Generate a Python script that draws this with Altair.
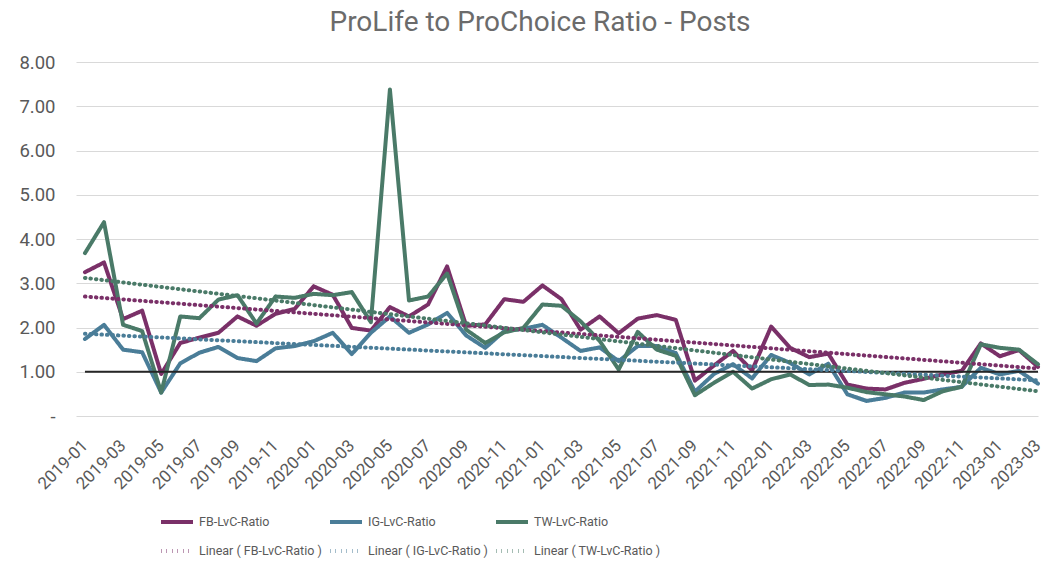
import json
import altair as alt
import pandas as pd

months = [
    "2019-01", "2019-02", "2019-03", "2019-04", "2019-05", "2019-06", "2019-07", "2019-08", "2019-09", "2019-10", "2019-11", "2019-12",
    "2020-01", "2020-02", "2020-03", "2020-04", "2020-05", "2020-06", "2020-07", "2020-08", "2020-09", "2020-10", "2020-11", "2020-12",
    "2021-01", "2021-02", "2021-03", "2021-04", "2021-05", "2021-06", "2021-07", "2021-08", "2021-09", "2021-10", "2021-11", "2021-12",
    "2022-01", "2022-02", "2022-03", "2022-04", "2022-05", "2022-06", "2022-07", "2022-08", "2022-09", "2022-10", "2022-11", "2022-12",
    "2023-01", "2023-02", "2023-03",
]

fb_ratio = [3.25, 3.47, 2.19, 2.38, 0.95, 1.65, 1.77, 1.88, 2.25, 2.04, 2.31, 2.42,
            2.93, 2.74, 1.99, 1.93, 2.46, 2.25, 2.52, 3.38, 2.04, 2.07, 2.64, 2.58,
            2.95, 2.64, 1.95, 2.25, 1.87, 2.20, 2.28, 2.17, 0.80, 1.14, 1.47, 1.03,
            2.02, 1.54, 1.33, 1.41, 0.71, 0.62, 0.60, 0.75, 0.84, 0.94, 1.02, 1.64,
            1.35, 1.49, 1.11]
ig_ratio = [1.74, 2.06, 1.50, 1.44, 0.53, 1.19, 1.43, 1.56, 1.31, 1.24, 1.53, 1.58,
            1.69, 1.88, 1.40, 1.88, 2.25, 1.88, 2.07, 2.33, 1.82, 1.54, 1.92, 1.97,
            2.06, 1.77, 1.47, 1.55, 1.24, 1.58, 1.58, 1.42, 0.55, 0.95, 1.17, 0.85,
            1.38, 1.20, 0.94, 1.18, 0.49, 0.34, 0.41, 0.53, 0.53, 0.60, 0.66, 1.09,
            0.94, 1.02, 0.73]
tw_ratio = [3.68, 4.38, 2.06, 1.92, 0.53, 2.25, 2.21, 2.63, 2.73, 2.09, 2.70, 2.67,
            2.76, 2.73, 2.80, 2.12, 7.38, 2.61, 2.70, 3.22, 1.95, 1.65, 1.89, 1.99,
            2.52, 2.49, 2.14, 1.70, 1.05, 1.90, 1.50, 1.36, 0.47, 0.75, 1.00, 0.62,
            0.83, 0.94, 0.70, 0.71, 0.64, 0.54, 0.49, 0.44, 0.36, 0.56, 0.66, 1.62,
            1.54, 1.50, 1.17]

series_names = ["FB-LvC-Ratio", "IG-LvC-Ratio", "TW-LvC-Ratio"]
trend_names = ["Linear ( FB-LvC-Ratio )", "Linear ( IG-LvC-Ratio )", "Linear ( TW-LvC-Ratio )"]
series_colors = ["#7a3068", "#4a7d98", "#4a7a68"]
y_ticks = [0, 1, 2, 3, 4, 5, 6, 7, 8]
baseline_value = 1.0

rows = []
for name, vals in zip(series_names, [fb_ratio, ig_ratio, tw_ratio]):
    for i, (m, v) in enumerate(zip(months, vals)):
        rows.append({"i": i, "month": m, "series": name, "value": v})
df = pd.DataFrame(rows)

all_names = series_names + trend_names
legend = alt.Legend(
    title=None, orient="none", legendX=83, legendY=442, columns=3, direction="horizontal",
    symbolType="stroke", symbolSize=1024, labelFont="Roboto",
    labelFontSize=12.5, labelColor="#595959", labelOffset=4, columnPadding=0, rowPadding=3,
    padding=0, labelLimit=300,
)
color = alt.Color("series:N", scale=alt.Scale(domain=all_names, range=series_colors * 2), legend=legend)
dash = alt.StrokeDash("series:N", scale=alt.Scale(domain=all_names, range=[[1, 0]] * 3 + [[0.5, 5]] * 3), legend=legend)
swidth = alt.StrokeWidth("series:N", scale=alt.Scale(domain=all_names, range=[4] * 3 + [2.1] * 3), legend=legend)

label_expr = json.dumps(months) + "[datum.value]"
x = alt.X("i:Q", scale=alt.Scale(domain=[-0.47, 50.0], nice=False, zero=False),
          axis=alt.Axis(title=None, values=list(range(0, 51, 2)), labelExpr=label_expr, labelAngle=-45,
                        labelOverlap=False, labelBound=False, labelFlush=False, labelOffset=-6,
                        labelFontSize=17, labelColor="#595959", labelFont="Roboto", grid=False, domain=False,
                        ticks=False, labelPadding=21))
y = alt.Y("value:Q", scale=alt.Scale(domain=[0, 8], nice=False),
          axis=alt.Axis(title=None, values=y_ticks,
                        labelExpr="datum.value == 0 ? '-\u00a0\u00a0' : format(datum.value, '.2f')",
                        labelFontSize=18.5, labelColor="#595959", labelFont="Roboto", grid=True,
                        gridColor="#d9d9d9", gridWidth=1.2, domain=False, ticks=False, labelPadding=21))

base = alt.Chart(df)
lines = base.mark_line(strokeCap="round", strokeJoin="round").encode(
    x=x, y=y, color=color, strokeDash=dash, strokeWidth=swidth, detail="series:N")

trend = base.transform_regression("i", "value", groupby=["series"]).transform_calculate(
    series="'Linear ( ' + datum.series + ' )'"
).mark_line(strokeCap="round").encode(x=x, y=y, color=color, strokeDash=dash, strokeWidth=swidth, detail="series:N")

rule = alt.Chart(pd.DataFrame({"i": [0], "b": [50], "value": [baseline_value]})).mark_rule(
    color="#262626", strokeWidth=2.2).encode(x=x, x2="b:Q", y=y)

chart = alt.layer(lines, rule, trend).properties(
    width=962, height=354,
    title=alt.TitleParams("ProLife to ProChoice Ratio - Posts", font="Roboto", fontSize=28, fontWeight="normal",
                          color="#6b6b6b", anchor="middle", dx=-17, offset=16),
    autosize=alt.AutoSizeParams(type="none"),
    padding={"left": 68, "top": 54, "right": 6, "bottom": 150},
).configure_view(stroke=None)

chart.save("out.html", embed_options={"renderer": "svg", "actions": False})
